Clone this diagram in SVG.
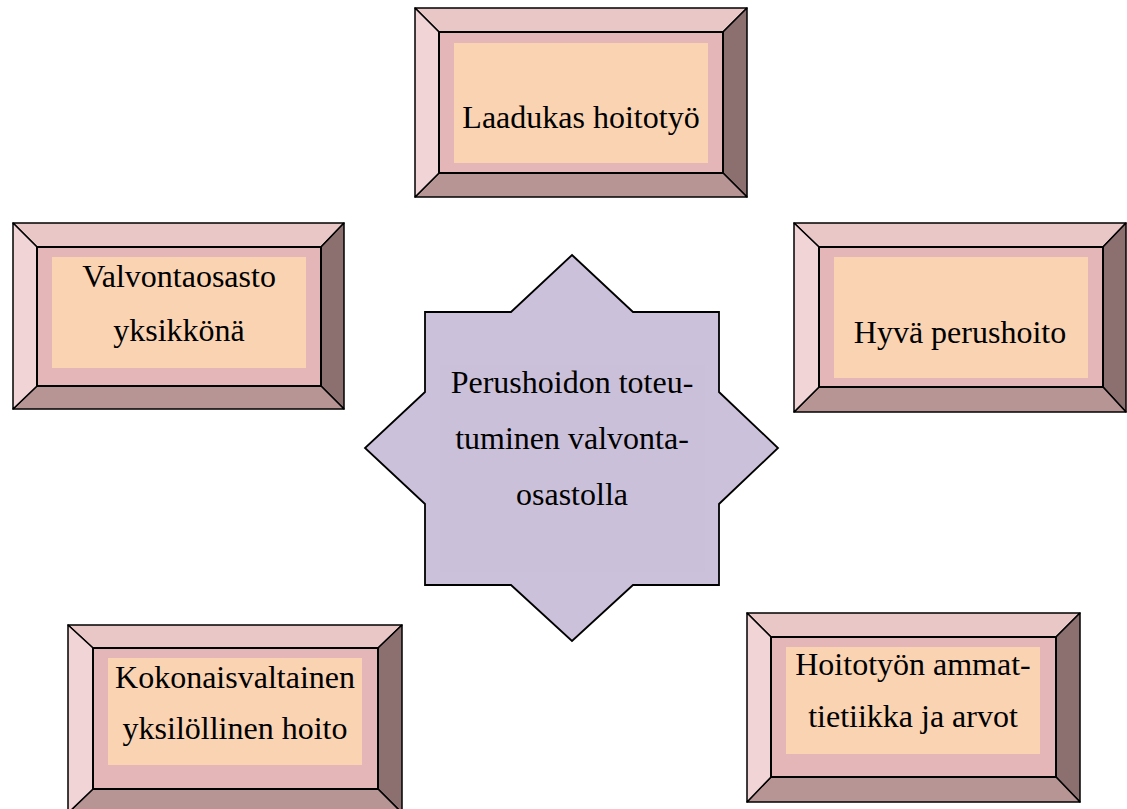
<svg xmlns="http://www.w3.org/2000/svg" width="1127" height="809" viewBox="0 0 1127 809">
<style>
.bt{fill:#EAC7C7;stroke:#000;stroke-width:1.5;stroke-linejoin:round}
.bl{fill:#F0D4D6;stroke:#000;stroke-width:1.5;stroke-linejoin:round}
.br{fill:#8C7070;stroke:#000;stroke-width:1.5;stroke-linejoin:round}
.bb{fill:#B89595;stroke:#000;stroke-width:1.5;stroke-linejoin:round}
.in{fill:#E4B6B8;stroke:#000;stroke-width:2}
.pe{fill:#FAD3B3}
.star{fill:#CCC1DB;stroke:#000;stroke-width:1.8;stroke-linejoin:miter}
.sa{fill:#CBC0DA}
text{font-family:"Liberation Serif","Times New Roman",serif;font-size:32px;fill:#000;text-anchor:middle}
</style>
<rect width="1127" height="809" fill="#fff"/>
<g id="connectors"/>
<g id="top">
<polygon class="bt" points="415,8 747,8 723,32 439,32"/>
<polygon class="br" points="747,8 747,197 723,173 723,32"/>
<polygon class="bb" points="747,197 415,197 439,173 723,173"/>
<polygon class="bl" points="415,197 415,8 439,32 439,173"/>
<rect class="in" x="439" y="32" width="284" height="141"/>
<rect class="pe" x="454" y="43" width="254" height="120"/>
<text x="581" y="128">Laadukas hoitotyö</text>
</g>
<g id="left">
<polygon class="bt" points="13,223 344,223 321,247 37,247"/>
<polygon class="br" points="344,223 344,409 321,386 321,247"/>
<polygon class="bb" points="344,409 13,409 37,386 321,386"/>
<polygon class="bl" points="13,409 13,223 37,247 37,386"/>
<rect class="in" x="37" y="247" width="284" height="139"/>
<rect class="pe" x="52" y="257" width="254" height="111"/>
<text x="179" y="287">Valvontaosasto</text>
<text x="179" y="341">yksikkönä</text>
</g>
<g id="right">
<polygon class="bt" points="794,223 1126,223 1103,247 819,247"/>
<polygon class="br" points="1126,223 1126,412 1103,387 1103,247"/>
<polygon class="bb" points="1126,412 794,412 819,387 1103,387"/>
<polygon class="bl" points="794,412 794,223 819,247 819,387"/>
<rect class="in" x="819" y="247" width="284" height="140"/>
<rect class="pe" x="834" y="257" width="254" height="121"/>
<text x="960" y="343">Hyvä perushoito</text>
</g>
<g id="bottom-left">
<polygon class="bt" points="68,625 402,625 378,648 93,648"/>
<polygon class="br" points="402,625 402,813 378,789 378,648"/>
<polygon class="bb" points="402,813 68,813 93,789 378,789"/>
<polygon class="bl" points="68,813 68,625 93,648 93,789"/>
<rect class="in" x="93" y="648" width="285" height="141"/>
<rect class="pe" x="108" y="658" width="254" height="107"/>
<text x="235" y="688">Kokonaisvaltainen</text>
<text x="235" y="739">yksilöllinen hoito</text>
</g>
<g id="bottom-right">
<polygon class="bt" points="747,613 1080,613 1056,637 771,637"/>
<polygon class="br" points="1080,613 1080,802 1056,777 1056,637"/>
<polygon class="bb" points="1080,802 747,802 771,777 1056,777"/>
<polygon class="bl" points="747,802 747,613 771,637 771,777"/>
<rect class="in" x="771" y="637" width="285" height="140"/>
<rect class="pe" x="786" y="647" width="254" height="107"/>
<text x="913" y="675">Hoitotyön ammat-</text>
<text x="913" y="727">tietiikka ja arvot</text>
</g>
<g id="center">
<polygon class="star" points="572,255 633,312 719,312 719,392 778,448 719,504 719,585 633,585 572,641 511,585 425,585 425,504 365,448 425,392 425,312 511,312"/>
<rect class="sa" x="440" y="365" width="265" height="207"/>
<text x="572" y="393">Perushoidon toteu-</text>
<text x="572" y="449">tuminen valvonta-</text>
<text x="572" y="505">osastolla</text>
</g>
</svg>
